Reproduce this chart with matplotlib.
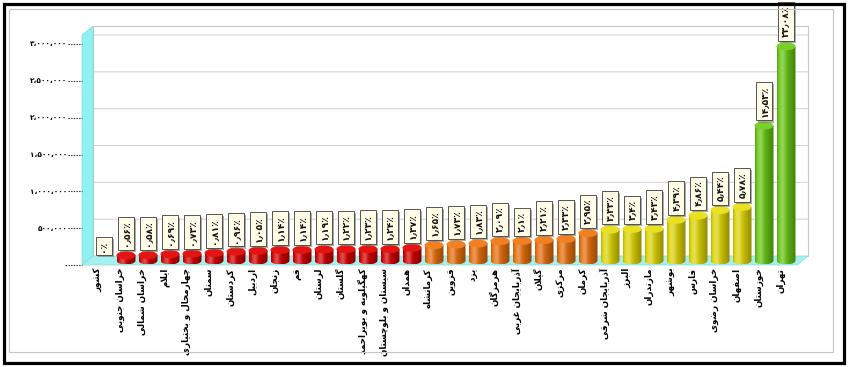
import numpy as np
import matplotlib.pyplot as plt
from matplotlib.patches import Rectangle, Polygon, Ellipse, PathPatch
from matplotlib.path import Path
import matplotlib.patheffects as pe

# data (sorted like the original chart)
provinces = ['کشور', 'خراسان جنوبی', 'خراسان شمالی', 'ایلام', 'چهارمحال و بختیاری',
             'سمنان', 'کردستان', 'اردبیل', 'زنجان', 'قم', 'لرستان', 'گلستان',
             'کهگیلویه و بویراحمد', 'سیستان و بلوچستان', 'همدان', 'کرمانشاه', 'قزوین',
             'یزد', 'هرمزگان', 'آذربایجان غربی', 'گیلان', 'مرکزی', 'کرمان',
             'آذربایجان شرقی', 'البرز', 'مازندران', 'بوشهر', 'فارس', 'خراسان رضوی',
             'اصفهان', 'خوزستان', 'تهران']
values = [0, 70000, 73000, 87000, 92000, 102000, 121000, 132000, 144000, 144000,
          150000, 154000, 155000, 156000, 173000, 208000, 218000, 231000, 263000,
          265000, 278000, 294000, 372000, 420000, 428000, 432000, 553000, 612000,
          685000, 728000, 1831000, 2908000]
shares = [0, 0.56, 0.58, 0.69, 0.73, 0.81, 0.96, 1.05, 1.14, 1.14, 1.19, 1.22, 1.23,
          1.24, 1.37, 1.65, 1.73, 1.83, 2.09, 2.10, 2.21, 2.33, 2.95, 3.33, 3.40,
          3.43, 4.39, 4.86, 5.44, 5.78, 14.53, 23.08]
yticks = [0, 500000, 1000000, 1500000, 2000000, 2500000, 3000000]

plt.rcParams['font.family'] = ['DejaVu Sans']
plt.rcParams['font.weight'] = 'bold'

# --- simple arabic/persian shaping (matplotlib has no shaping or bidi) ---
FORMS = {
    'ا': '\ufe8d\ufe8e', 'آ': '\ufe81\ufe82', 'د': '\ufea9\ufeaa', 'ذ': '\ufeab\ufeac',
    'ر': '\ufead\ufeae', 'ز': '\ufeaf\ufeb0', 'ژ': '\ufb8a\ufb8b', 'و': '\ufeed\ufeee',
    'ب': '\ufe8f\ufe90\ufe91\ufe92', 'پ': '\ufb56\ufb57\ufb58\ufb59',
    'ت': '\ufe95\ufe96\ufe97\ufe98', 'ث': '\ufe99\ufe9a\ufe9b\ufe9c',
    'ج': '\ufe9d\ufe9e\ufe9f\ufea0', 'چ': '\ufb7a\ufb7b\ufb7c\ufb7d',
    'ح': '\ufea1\ufea2\ufea3\ufea4', 'خ': '\ufea5\ufea6\ufea7\ufea8',
    'س': '\ufeb1\ufeb2\ufeb3\ufeb4', 'ش': '\ufeb5\ufeb6\ufeb7\ufeb8',
    'ص': '\ufeb9\ufeba\ufebb\ufebc', 'ض': '\ufebd\ufebe\ufebf\ufec0',
    'ط': '\ufec1\ufec2\ufec3\ufec4', 'ظ': '\ufec5\ufec6\ufec7\ufec8',
    'ع': '\ufec9\ufeca\ufecb\ufecc', 'غ': '\ufecd\ufece\ufecf\ufed0',
    'ف': '\ufed1\ufed2\ufed3\ufed4', 'ق': '\ufed5\ufed6\ufed7\ufed8',
    'ک': '\ufb8e\ufb8f\ufb90\ufb91', 'گ': '\ufb92\ufb93\ufb94\ufb95',
    'ل': '\ufedd\ufede\ufedf\ufee0', 'م': '\ufee1\ufee2\ufee3\ufee4',
    'ن': '\ufee5\ufee6\ufee7\ufee8', 'ه': '\ufee9\ufeea\ufeeb\ufeec',
    'ی': '\ufbfc\ufbfd\ufbfe\ufbff',
}
LAMALEF = {'ا': '\ufefb\ufefc', 'آ': '\ufef5\ufef6'}


def dual(c):
    return c in FORMS and len(FORMS[c]) == 4


def shape(text):
    out = []
    i = 0
    while i < len(text):
        c = text[i]
        if c not in FORMS:
            out.append(c)
            i += 1
            continue
        prev_joins = i > 0 and dual(text[i - 1])
        if c == 'ل' and i + 1 < len(text) and text[i + 1] in LAMALEF:
            out.append(LAMALEF[text[i + 1]][1 if prev_joins else 0])
            i += 2
            continue
        next_joins = dual(c) and i + 1 < len(text) and text[i + 1] in FORMS
        f = FORMS[c]
        if prev_joins and next_joins:
            out.append(f[3])
        elif prev_joins:
            out.append(f[1])
        elif next_joins:
            out.append(f[2])
        else:
            out.append(f[0])
        i += 1
    return ''.join(reversed(out))


def fa(s):
    return s.translate(str.maketrans('0123456789.,%', '۰۱۲۳۴۵۶۷۸۹٫،٪'))


def pct(s):
    txt = f'{s:.2f}'.rstrip('0').rstrip('.')
    return fa((txt or '0') + '%')


W, H = 848, 367
fig = plt.figure(figsize=(W / 100, H / 100), dpi=100)
fig.patch.set_facecolor('white')

# front plane of the pseudo 3d chart
ax = fig.add_axes([82 / W, (H - 265) / H, 715 / W, 221 / H])
ax.set_xlim(-0.75, len(provinces) - 0.25)
ax.set_ylim(0, 3000000)
ax.patch.set_visible(False)
for s in ax.spines.values():
    s.set_visible(False)
ax.set_xticks(range(len(provinces)))
ax.set_xticklabels([shape(p) for p in provinces], rotation=90, fontsize=6.3, fontweight='bold')
ax.set_yticks(yticks)
ax.set_yticklabels([fa(f'{v:,}') for v in yticks], fontsize=5.3, fontweight='bold')
ax.tick_params(axis='x', length=0, pad=2)
ax.tick_params(axis='y', length=0, pad=10.5)

# pixel axes for the drawing (y down)
pax = fig.add_axes([0, 0, 1, 1], zorder=2)
pax.set_xlim(0, W)
pax.set_ylim(H, 0)
pax.axis('off')

DX, DY = 11, 9


def px(x, y, depth=0.0):
    X, Y = ax.transData.transform((x, y))
    return X + DX * depth, H - Y - DY * depth


x0, x1 = ax.get_xlim()
ytop = 3120000

# walls and floor
pax.add_patch(Rectangle(px(x0, ytop, 1), px(x1, 0, 1)[0] - px(x0, 0, 1)[0],
                        px(x0, 0, 1)[1] - px(x0, ytop, 1)[1],
                        fc='white', ec='#c8c8c8', lw=0.8, zorder=1))
pax.add_patch(Polygon([px(x0, 0), px(x0, ytop), px(x0, ytop, 1), px(x0, 0, 1)],
                      fc='#8ff2f2', ec='#7fd8d8', lw=0.5, zorder=2))
pax.add_patch(Polygon([px(x0, 0), px(x1, 0), px(x1, 0, 1), px(x0, 0, 1)],
                      fc='#a6f0f0', ec='#86dede', lw=0.5, zorder=2))
for v in yticks[1:]:
    a, b, c = px(x0, v), px(x0, v, 1), px(x1, v, 1)
    pax.plot([a[0], b[0], c[0]], [a[1], b[1], c[1]], color='#cfcfcf', lw=0.7, zorder=1.5)
for v in yticks:
    a = px(x0, v)
    pax.plot([a[0] - 14, a[0]], [a[1], a[1]], color='#222222', lw=0.8,
             ls=(0, (1.2, 1.2)), zorder=3)


def shade(base, n=64):
    t = np.linspace(0, 1, n)
    f = 1.0 - 0.38 * t ** 1.6
    f *= 0.82 + 0.18 * np.clip(t / 0.12, 0, 1)
    hi = 0.30 * np.exp(-((t - 0.3) / 0.16) ** 2)
    col = np.array(base)[None, :] * f[:, None]
    col = col + (1 - col) * hi[:, None]
    return np.clip(col, 0, 1)[None, :, :]


def colors_for(s):
    if s < 1.5:
        return (0.85, 0.0, 0.0), '#e41410'
    if s < 3:
        return (0.93, 0.45, 0.05), '#f28020'
    if s < 10:
        return (0.90, 0.86, 0.02), '#e8e020'
    return (0.42, 0.80, 0.08), '#78d028'


a_r, b_r = 9.5, 4.0
for i, (v, s) in enumerate(zip(values, shares)):
    X, Yb = px(i, 0, 0.5)
    _, Yt = px(i, v, 0.5)
    if v > 0:
        body, top = colors_for(s)
        t = np.linspace(0, np.pi, 30)
        verts = [(X - a_r, Yt), (X - a_r, Yb)]
        verts += list(zip(X - a_r * np.cos(t), Yb + b_r * np.sin(t)))
        verts += [(X + a_r, Yt), (X - a_r, Yt)]
        clip = PathPatch(Path(verts), fc='none', ec='none', zorder=4)
        pax.add_patch(clip)
        im = pax.imshow(shade(body), extent=[X - a_r, X + a_r, Yb + b_r, Yt - b_r],
                        aspect='auto', interpolation='bilinear', zorder=4)
        im.set_clip_path(clip)
        pax.add_patch(Ellipse((X, Yt), 2 * a_r, 2 * b_r, fc=top, ec='none', zorder=5))
    txt = pax.text(X, Yt - b_r - 5, pct(s), rotation=90, ha='center', va='bottom',
                   fontsize=6.6, fontweight='bold', color='#111111', zorder=6,
                   bbox=dict(boxstyle='square,pad=0.42', fc='#fffde8', ec='#3a3a3a', lw=0.6))
    txt.get_bbox_patch().set_path_effects(
        [pe.withSimplePatchShadow(offset=(1.5, -1.5), shadow_rgbFace='#777777', alpha=0.6)])

# frames
pax.add_patch(Rectangle((9, 9), 824, 343, fill=False, ec='#c4c4c4', lw=0.8, zorder=7))
pax.add_patch(Rectangle((3.5, 3.5), 840, 359, fill=False, ec='black', lw=2.3, zorder=7))

fig.savefig('out.png', dpi=100)
